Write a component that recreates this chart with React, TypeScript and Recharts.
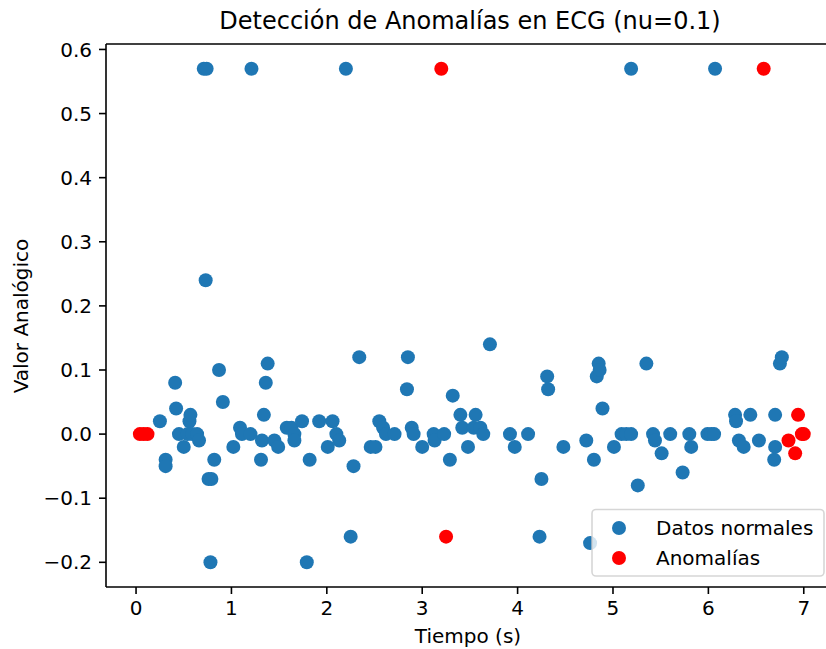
import { ScatterChart, Scatter, XAxis, YAxis, ReferenceLine } from "recharts";

// time (s) and analog value of the points kept as normal
const normalTime = [
  0.71, 0.74, 1.21, 2.2, 5.19, 6.07, 0.73, 0.78, 1.79, 2.25, 4.23, 4.76,
  0.25, 0.31, 0.31, 0.41, 0.42, 0.45, 0.5, 0.54, 0.56, 0.57, 0.59, 0.64, 0.66,
  0.76, 0.79, 0.82, 0.87, 0.91, 1.02, 1.09, 1.11, 1.2, 1.31, 1.32, 1.34, 1.36,
  1.38, 1.45, 1.49, 1.58, 1.63, 1.66, 1.66, 1.74, 1.82, 1.92, 2.01, 2.06, 2.1,
  2.13, 2.28, 2.34, 2.46, 2.51, 2.55, 2.59, 2.62, 2.71, 2.84, 2.85, 2.89, 2.91,
  3.0, 3.12, 3.13, 3.23, 3.29, 3.32, 3.4, 3.42, 3.48, 3.54, 3.56, 3.61, 3.64,
  3.71, 3.92, 3.97, 4.11, 4.25, 4.31, 4.32, 4.48, 4.72, 4.8, 4.83, 4.85, 4.86,
  4.89, 5.01, 5.09, 5.14, 5.19, 5.26, 5.35, 5.42, 5.44, 5.51, 5.6, 5.73, 5.8,
  5.82, 5.99, 6.03, 6.06, 6.28, 6.29, 6.32, 6.37, 6.44, 6.53, 6.69, 6.7, 6.7,
  6.75, 6.77,
];
const normalValue = [
  0.57, 0.57, 0.57, 0.57, 0.57, 0.57, 0.24, -0.2, -0.2, -0.16, -0.16, -0.17,
  0.02, -0.04, -0.05, 0.08, 0.04, 0.0, -0.02, 0.0, 0.02, 0.03, 0.0, 0.0, -0.01,
  -0.07, -0.07, -0.04, 0.1, 0.05, -0.02, 0.01, 0.0, 0.0, -0.04, -0.01, 0.03, 0.08,
  0.11, -0.01, -0.02, 0.01, 0.01, 0.0, -0.01, 0.02, -0.04, 0.02, -0.02, 0.02, 0.0,
  -0.01, -0.05, 0.12, -0.02, -0.02, 0.02, 0.01, 0.0, 0.0, 0.07, 0.12, 0.01, 0.0,
  -0.02, 0.0, -0.01, 0.0, -0.04, 0.06, 0.03, 0.01, -0.02, 0.01, 0.03, 0.01, 0.0,
  0.14, 0.0, -0.02, 0.0, -0.07, 0.09, 0.07, -0.02, -0.01, -0.04, 0.09, 0.11, 0.1,
  0.04, -0.02, 0.0, 0.0, 0.0, -0.08, 0.11, 0.0, -0.01, -0.03, 0.0, -0.06, 0.0,
  -0.02, 0.0, 0.0, 0.0, 0.03, 0.02, -0.01, -0.02, 0.03, -0.01, -0.04, -0.02, 0.03,
  0.11, 0.12,
];

// points flagged by the detector (nu=0.1)
const anomalyTime = [0.04, 0.08, 0.12, 3.2, 3.25, 6.58, 6.84, 6.91, 6.94, 6.98, 7.0];
const anomalyValue = [0.0, 0.0, 0.0, 0.57, -0.16, 0.57, -0.01, -0.03, 0.03, 0.0, 0.0];

const xTicks = [0, 1, 2, 3, 4, 5, 6, 7];
const yTicks = [-0.2, -0.1, 0.0, 0.1, 0.2, 0.3, 0.4, 0.5, 0.6];

const normalData = normalTime.map((t, i) => ({ t, v: normalValue[i] }));
const anomalyData = anomalyTime.map((t, i) => ({ t, v: anomalyValue[i] }));

const BLUE = "#1f77b4";
const RED = "#ff0000";
const FONT = "'DejaVu Sans', sans-serif";
const X_DOMAIN = [-0.315, 7.275];
const Y_DOMAIN = [-0.2385, 0.6085];

const fmtY = (v: number) => (v < 0 ? `\u2212${Math.abs(v).toFixed(1)}` : v.toFixed(1));

const dot = (color: string) => (props: any) => (
  <circle cx={props.cx} cy={props.cy} r={7} fill={color} />
);

const App = () => {
  return (
    <div style={{ position: "absolute", left: 0, top: 0, width: 826, height: 649, overflow: "hidden", background: "#fff" }}>
      <ScatterChart width={840} height={649} margin={{ top: 44, right: 10, bottom: 0, left: 0 }}>
        <XAxis
          type="number"
          dataKey="t"
          domain={X_DOMAIN}
          ticks={xTicks}
          allowDataOverflow
          height={62}
          tickSize={7}
          tickMargin={7}
          axisLine={{ stroke: "#000", strokeWidth: 1.6 }}
          tickLine={{ stroke: "#000", strokeWidth: 1.6 }}
          tick={{ fontSize: 20, fill: "#000", fontFamily: FONT }}
        />
        <YAxis
          type="number"
          dataKey="v"
          domain={Y_DOMAIN}
          ticks={yTicks}
          allowDataOverflow
          width={106}
          tickSize={7}
          tickMargin={7}
          tickFormatter={fmtY}
          axisLine={{ stroke: "#000", strokeWidth: 1.6 }}
          tickLine={{ stroke: "#000", strokeWidth: 1.6 }}
          tick={{ fontSize: 20, fill: "#000", fontFamily: FONT }}
        />
        <ReferenceLine y={Y_DOMAIN[1]} stroke="#000" strokeWidth={1.6} />
        <Scatter data={normalData} fill={BLUE} shape={dot(BLUE)} isAnimationActive={false} />
        <Scatter data={anomalyData} fill={RED} shape={dot(RED)} isAnimationActive={false} />
      </ScatterChart>
      <svg width={826} height={649} style={{ position: "absolute", left: 0, top: 0, pointerEvents: "none" }}>
        <text x={470} y={29} textAnchor="middle" fontSize={24} fontFamily={FONT} fill="#000">
          Detección de Anomalías en ECG (nu=0.1)
        </text>
        <text x={468} y={643} textAnchor="middle" fontSize={20} fontFamily={FONT} fill="#000">
          Tiempo (s)
        </text>
        <text x={28} y={316} textAnchor="middle" fontSize={20} fontFamily={FONT} fill="#000" transform="rotate(-90, 28, 316)">
          Valor Analógico
        </text>
        <rect x={592} y={509.5} width={232} height={66.5} rx={4} fill="#fff" fillOpacity={0.8} stroke="#ccc" strokeOpacity={0.8} strokeWidth={1.6} />
        <circle cx={619} cy={528} r={7} fill={BLUE} />
        <text x={656} y={535} fontSize={20} fontFamily={FONT} fill="#000">Datos normales</text>
        <circle cx={619} cy={558} r={7} fill={RED} />
        <text x={656} y={565} fontSize={20} fontFamily={FONT} fill="#000">Anomalías</text>
      </svg>
    </div>
  );
};

export default App;
